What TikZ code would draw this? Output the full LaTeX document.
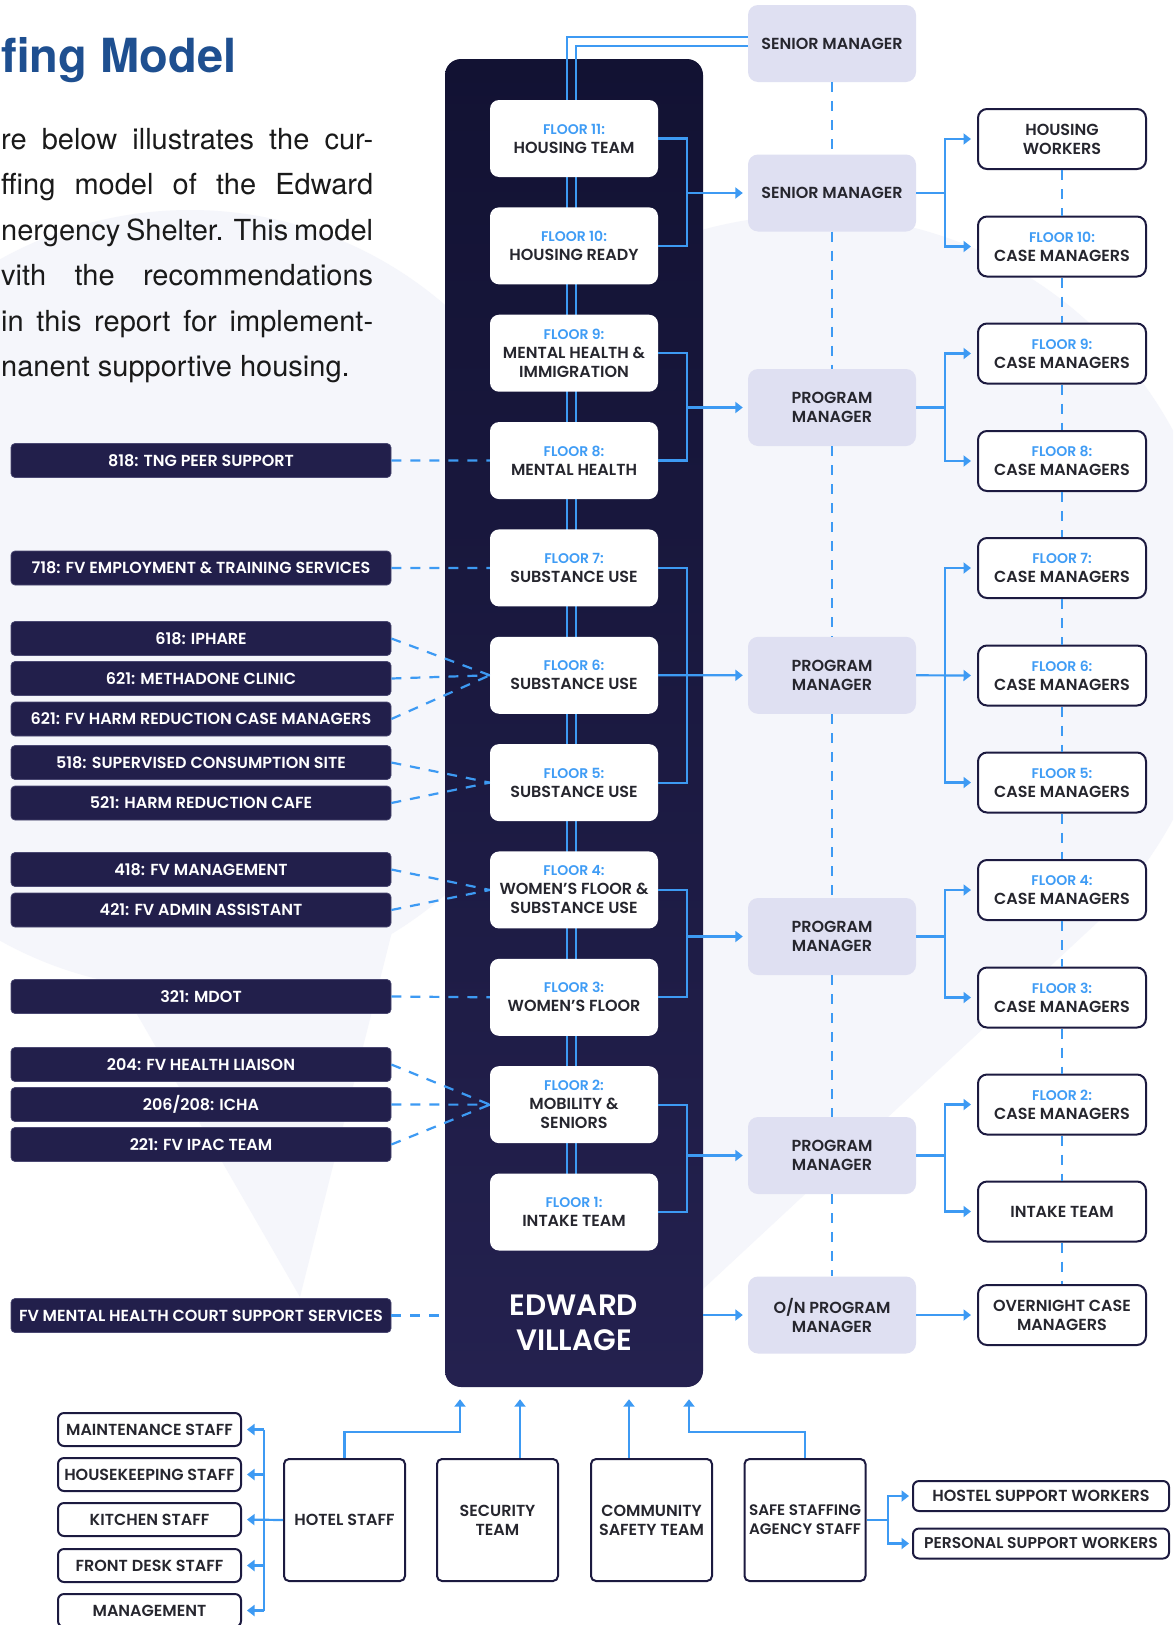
\documentclass[tikz,border=0pt]{standalone}
\usepackage{fontspec}
\setmainfont{TeX Gyre Heros}
\newfontfamily\popsb{Poppins SemiBold}
\usetikzlibrary{arrows.meta,calc}
\definecolor{navyA}{HTML}{121233}
\definecolor{navyB}{HTML}{24214F}
\definecolor{lboxfill}{HTML}{221F4B}
\definecolor{lboxdraw}{HTML}{4A4872}
\definecolor{flblue}{HTML}{3F9CF5}
\definecolor{lineblue}{HTML}{3D9AF3}
\definecolor{mgrfill}{HTML}{DFE0F2}
\definecolor{txt}{HTML}{26262E}
\definecolor{rdraw}{HTML}{1C1A40}
\definecolor{titleblue}{HTML}{1E4F90}
\definecolor{bgsoft}{HTML}{F5F6FB}
\definecolor{paratext}{HTML}{1A1A1A}
\newcommand{\fl}[1]{{\color{flblue}\fontsize{14}{19}\selectfont #1}}
\tikzset{
 txtbase/.style={inner sep=0pt, align=center, font=\popsb\fontsize{16}{19}\selectfont, text=txt},
 floorbox/.style={txtbase, fill=white, rounded corners=9pt, minimum width=168pt, minimum height=77pt},
 mgrbox/.style={txtbase, fill=mgrfill, rounded corners=10pt, minimum width=168pt, minimum height=77pt},
 rbox/.style={txtbase, fill=white, draw=rdraw, line width=2pt, rounded corners=9pt, minimum width=168pt, minimum height=60pt},
 lbox/.style={txtbase, fill=lboxfill, draw=lboxdraw, line width=0.7pt, rounded corners=4pt, minimum width=380pt, minimum height=34pt, text=white},
 bbox/.style={txtbase, fill=white, draw=rdraw, line width=2pt, rounded corners=5pt, minimum width=121pt, minimum height=122pt},
 sbox/.style={txtbase, fill=white, draw=rdraw, line width=2pt, rounded corners=6pt, minimum width=183pt, minimum height=33pt},
 wbox/.style={txtbase, fill=white, draw=rdraw, line width=2pt, rounded corners=6pt, minimum width=256pt, minimum height=30pt},
 conn/.style={draw=lineblue, line width=2.2pt},
 arr/.style={conn, -{Triangle[length=7.5pt,width=11pt]}},
 dashline/.style={draw=lineblue, line width=2.2pt, dash pattern=on 10pt off 9pt},
 para/.style={inner sep=0pt, font=\fontsize{29}{35}\selectfont, text=paratext},
}
\begin{document}
\begin{tikzpicture}[x=1pt,y=-1pt]
\useasboundingbox (0,0) rectangle (1173,1625);
\clip (0,0) rectangle (1173,1625);
\fill[white] (0,0) rectangle (1173,1625);
% soft background bubbles
\fill[bgsoft] (190,600) circle[radius=390pt];
\fill[bgsoft] (100,950) -- (300,1297) -- (400,900) -- cycle;
\fill[bgsoft] (812,625) circle[radius=410pt];
\fill[bgsoft] (1100,920) -- (702,1290) -- (560,950) -- cycle;

% title and text
\node[anchor=base west, inner sep=0pt, font=\bfseries\fontsize{47}{50}\selectfont, text=titleblue] (title) at (1,72.7) {fing Model};
\node[para, anchor=base west] (pl1) at (1,149.3) {\makebox[372pt][s]{re below illustrates the cur-}};
\node[para, anchor=base west] (pl2) at (1,194.8) {\makebox[372pt][s]{ffing model of the Edward}};
\node[para, anchor=base west] (pl3) at (1,240.3) {\makebox[372pt][s]{nergency Shelter. This model}};
\node[para, anchor=base west] (pl4) at (1,285.8) {\makebox[372pt][s]{vith the recommendations}};
\node[para, anchor=base west] (pl5) at (1,331.3) {\makebox[372pt][s]{in this report for implement-}};
\node[para, anchor=base west] (pl6) at (1,376.8) {nanent supportive housing.};

% central panel
\node[top color=navyA, bottom color=navyB, rounded corners=16pt, minimum width=258pt, minimum height=1328pt, inner sep=0pt] (panel) at (574,723) {};
\node[inner sep=0pt, align=center, font=\popsb\fontsize{29.5}{35}\selectfont, text=white] (evlabel) at (574,1322.5) {EDWARD\\VILLAGE};

% managers column
\node[mgrbox] (s1) at (832,43.5) {SENIOR MANAGER};
\node[mgrbox] (s2) at (832,193) {SENIOR MANAGER};
\node[mgrbox] (p1) at (832,407.5) {PROGRAM\\MANAGER};
\node[mgrbox] (p2) at (832,675.3) {PROGRAM\\MANAGER};
\node[mgrbox] (p3) at (832,936.5) {PROGRAM\\MANAGER};
\node[mgrbox] (p4) at (832,1155.5) {PROGRAM\\MANAGER};
\node[mgrbox] (on) at (832,1315) {O/N PROGRAM\\MANAGER};

% double lines from senior manager
\coordinate (topA) at (567,37);
\coordinate (topB) at (576,46);
\coordinate (f1top) at (574,1173.5);
\draw[conn] (s1.west |- topA) -- (topA) -- (topA |- f1top);
\draw[conn] (s1.west |- topB) -- (topB) -- (topB |- f1top);

% floors
\node[floorbox] (f11) at (574,138.5) {\fl{FLOOR 11:}\\HOUSING TEAM};
\node[floorbox] (f10) at (574,245.85) {\fl{FLOOR 10:}\\HOUSING READY};
\node[floorbox] (f9) at (574,353.2) {\fl{FLOOR 9:}\\MENTAL HEALTH \&\\IMMIGRATION};
\node[floorbox] (f8) at (574,460.55) {\fl{FLOOR 8:}\\MENTAL HEALTH};
\node[floorbox] (f7) at (574,567.9) {\fl{FLOOR 7:}\\SUBSTANCE USE};
\node[floorbox] (f6) at (574,675.25) {\fl{FLOOR 6:}\\SUBSTANCE USE};
\node[floorbox] (f5) at (574,782.6) {\fl{FLOOR 5:}\\SUBSTANCE USE};
\node[floorbox] (f4) at (574,889.95) {\fl{FLOOR 4:}\\WOMEN’S FLOOR \&\\SUBSTANCE USE};
\node[floorbox] (f3) at (574,997.3) {\fl{FLOOR 3:}\\WOMEN’S FLOOR};
\node[floorbox] (f2) at (574,1104.65) {\fl{FLOOR 2:}\\MOBILITY \&\\SENIORS};
\node[floorbox] (f1) at (574,1212) {\fl{FLOOR 1:}\\INTAKE TEAM};

% right column
\node[rbox] (hw) at (1062,139) {HOUSING\\WORKERS};
\node[rbox] (c10) at (1062,246.5) {\fl{FLOOR 10:}\\CASE MANAGERS};
\node[rbox] (c9) at (1062,353.5) {\fl{FLOOR 9:}\\CASE MANAGERS};
\node[rbox] (c8) at (1062,461) {\fl{FLOOR 8:}\\CASE MANAGERS};
\node[rbox] (c7) at (1062,568) {\fl{FLOOR 7:}\\CASE MANAGERS};
\node[rbox] (c6) at (1062,675.5) {\fl{FLOOR 6:}\\CASE MANAGERS};
\node[rbox] (c5) at (1062,782.5) {\fl{FLOOR 5:}\\CASE MANAGERS};
\node[rbox] (c4) at (1062,890) {\fl{FLOOR 4:}\\CASE MANAGERS};
\node[rbox] (c3) at (1062,997.5) {\fl{FLOOR 3:}\\CASE MANAGERS};
\node[rbox] (c2) at (1062,1104.5) {\fl{FLOOR 2:}\\CASE MANAGERS};
\node[rbox] (it) at (1062,1211.5) {INTAKE TEAM};
\node[rbox] (oc) at (1062,1315) {OVERNIGHT CASE\\MANAGERS};

% left column
\node[lbox] (l818) at (201,460.5) {818: TNG PEER SUPPORT};
\node[lbox] (l718) at (201,568) {718: FV EMPLOYMENT \& TRAINING SERVICES};
\node[lbox] (l618) at (201,638.5) {618: IPHARE};
\node[lbox] (l621a) at (201,678.5) {621: METHADONE CLINIC};
\node[lbox] (l621b) at (201,719) {621: FV HARM REDUCTION CASE MANAGERS};
\node[lbox] (l518) at (201,762.5) {518: SUPERVISED CONSUMPTION SITE};
\node[lbox] (l521) at (201,803) {521: HARM REDUCTION CAFE};
\node[lbox] (l418) at (201,869.5) {418: FV MANAGEMENT};
\node[lbox] (l421) at (201,910) {421: FV ADMIN ASSISTANT};
\node[lbox] (l321) at (201,996.5) {321: MDOT};
\node[lbox] (l204) at (201,1064.5) {204: FV HEALTH LIAISON};
\node[lbox] (l206) at (201,1104.5) {206/208: ICHA};
\node[lbox] (l221) at (201,1144.5) {221: FV IPAC TEAM};
\node[lbox] (lfv) at (201,1315.5) {FV MENTAL HEALTH COURT SUPPORT SERVICES};

% bottom boxes
\node[bbox] (hotel) at (344.5,1520) {HOTEL STAFF};
\node[bbox] (sec) at (497.5,1520) {SECURITY\\TEAM};
\node[bbox] (com) at (651.5,1520) {COMMUNITY\\SAFETY TEAM};
\node[bbox, font=\popsb\fontsize{15.2}{19}\selectfont] (safe) at (805,1520) {SAFE STAFFING\\AGENCY STAFF};
\node[wbox] (hsw) at (1041,1496) {HOSTEL SUPPORT WORKERS};
\node[wbox, font=\popsb\fontsize{15.6}{19}\selectfont] (psw) at (1041,1543.5) {PERSONAL SUPPORT WORKERS};
\node[sbox] (maint) at (149.5,1429.5) {MAINTENANCE STAFF};
\node[sbox] (house) at (149.5,1474.5) {HOUSEKEEPING STAFF};
\node[sbox] (kit) at (149.5,1519.5) {KITCHEN STAFF};
\node[sbox] (front) at (149.5,1565.5) {FRONT DESK STAFF};
\node[sbox] (mgmt) at (149.5,1610.5) {MANAGEMENT};

% panel -> managers
\coordinate (bx) at (687,0);
\draw[conn] (f11.east) -| (bx |- s2.west) |- (f10.east);
\draw[arr, shorten >=5pt] (bx |- s2.west) -- (s2.west);
\draw[conn] (f9.east) -| (bx |- p1.west) |- (f8.east);
\draw[arr, shorten >=5pt] (bx |- p1.west) -- (p1.west);
\draw[conn] (f7.east) -| (bx |- p2.west) |- (f5.east);
\draw[arr, shorten >=5pt] (f6.east) -- (p2.west);
\draw[conn] (f4.east) -| (bx |- p3.west) |- (f3.east);
\draw[arr, shorten >=5pt] (bx |- p3.west) -- (p3.west);
\draw[conn] (f2.east) -| (bx |- p4.west) |- (f1.east);
\draw[arr, shorten >=5pt] (bx |- p4.west) -- (p4.west);
\draw[arr, shorten >=5pt] (panel.east |- on.west) -- (on.west);

% managers -> right column
\coordinate (rx) at (945,0);
\draw[conn] (s2.east) -- (rx |- s2.east);
\draw[arr, shorten >=6pt] (rx |- s2.east) |- (hw.west);
\draw[arr, shorten >=6pt] (rx |- s2.east) |- (c10.west);
\draw[conn] (p1.east) -- (rx |- p1.east);
\draw[arr, shorten >=6pt] (rx |- p1.east) |- (c9.west);
\draw[arr, shorten >=6pt] (rx |- p1.east) |- (c8.west);
\draw[arr, shorten >=6pt] (p2.east) -- (c6.west);
\draw[arr, shorten >=6pt] (rx |- p2.east) |- (c7.west);
\draw[arr, shorten >=6pt] (rx |- p2.east) |- (c5.west);
\draw[conn] (p3.east) -- (rx |- p3.east);
\draw[arr, shorten >=6pt] (rx |- p3.east) |- (c4.west);
\draw[arr, shorten >=6pt] (rx |- p3.east) |- (c3.west);
\draw[conn] (p4.east) -- (rx |- p4.east);
\draw[arr, shorten >=6pt] (rx |- p4.east) |- (c2.west);
\draw[arr, shorten >=6pt] (rx |- p4.east) |- (it.west);
\draw[arr, shorten >=6pt] (on.east) -- (oc.west);

% dashed verticals
\draw[dashline] (s1.south) -- (s2.north);
\draw[dashline] (s2.south) -- (p1.north);
\draw[dashline] (p1.south) -- (p2.north);
\draw[dashline] (p2.south) -- (p3.north);
\draw[dashline] (p3.south) -- (p4.north);
\draw[dashline] (p4.south) -- (on.north);
\draw[dashline] (hw.south) -- (c10.north);
\draw[dashline] (c10.south) -- (c9.north);
\draw[dashline] (c9.south) -- (c8.north);
\draw[dashline] (c8.south) -- (c7.north);
\draw[dashline] (c7.south) -- (c6.north);
\draw[dashline] (c6.south) -- (c5.north);
\draw[dashline] (c5.south) -- (c4.north);
\draw[dashline] (c4.south) -- (c3.north);
\draw[dashline] (c3.south) -- (c2.north);
\draw[dashline] (c2.south) -- (it.north);
\draw[dashline] (it.south) -- (oc.north);

% left dashed connectors
\draw[dashline] (l818.east) -- (f8.west);
\draw[dashline] (l718.east) -- (f7.west);
\draw[dashline] (l618.east) -- (f6.west);
\draw[dashline] (l621a.east) -- (f6.west);
\draw[dashline] (l621b.east) -- (f6.west);
\draw[dashline] (l518.east) -- (f5.west);
\draw[dashline] (l521.east) -- (f5.west);
\draw[dashline] (l418.east) -- (f4.west);
\draw[dashline] (l421.east) -- (f4.west);
\draw[dashline] (l321.east) -- (f3.west);
\draw[dashline] (l204.east) -- (f2.west);
\draw[dashline] (l206.east) -- (f2.west);
\draw[dashline] (l221.east) -- (f2.west);
\draw[dashline] (lfv.east) -- (lfv.east -| panel.west);

% bottom connectors
\coordinate (hA) at (460,1432);
\coordinate (secx) at (520,0);
\coordinate (comx) at (629,0);
\coordinate (sA) at (689,1432);
\draw[arr, shorten >=12pt] (hotel.north) |- (hA) -- (hA |- panel.south);
\draw[arr, shorten >=12pt] (secx |- sec.north) -- (secx |- panel.south);
\draw[arr, shorten >=12pt] (comx |- com.north) -- (comx |- panel.south);
\draw[arr, shorten >=12pt] (safe.north) |- (sA) -- (sA |- panel.south);

\coordinate (busx) at (264,0);
\draw[conn] (busx |- maint.east) -- (busx |- mgmt.east);
\draw[arr, shorten >=5pt] (busx |- maint.east) -- (maint.east);
\draw[arr, shorten >=5pt] (busx |- house.east) -- (house.east);
\draw[arr, shorten >=5pt] (hotel.west) -- (kit.east);
\draw[arr, shorten >=5pt] (busx |- front.east) -- (front.east);
\draw[arr, shorten >=5pt] (busx |- mgmt.east) -- (mgmt.east);

\coordinate (hx) at (888,0);
\draw[conn] (safe.east) -- (hx |- safe.east);
\draw[arr, shorten >=3pt] (hx |- safe.east) |- (hsw.west);
\draw[arr, shorten >=3pt] (hx |- safe.east) |- (psw.west);
\end{tikzpicture}
\end{document}
